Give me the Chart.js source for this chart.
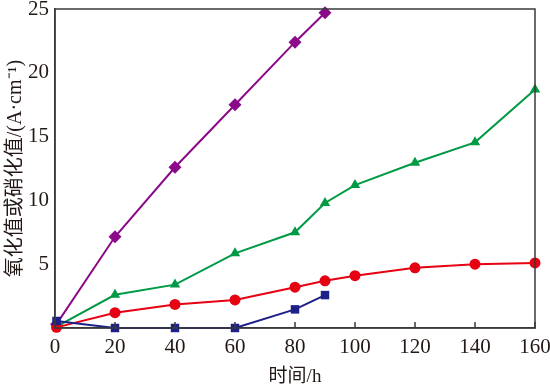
<!DOCTYPE html>
<html>
<head>
<meta charset="utf-8">
<script src="https://cdn.jsdelivr.net/npm/chart.js@4"></script>
<style>
  html, body { margin: 0; padding: 0; background: #fff; }
  #wrap { width: 550px; height: 384px; }
</style>
</head>
<body>
<div id="wrap"><canvas id="chart"></canvas></div>
<script>
// time points (h) for each curve
const timesLong = [0.5, 20, 40, 60, 80, 90, 100, 120, 140, 160];
const timesShort = [0.5, 20, 40, 60, 80, 90];

// series values (A·cm^-1)
const purpleVals = [0.3, 7.15, 12.6, 17.5, 22.4, 24.7];
const greenVals = [0.1, 2.6, 3.4, 5.85, 7.5, 9.8, 11.2, 12.95, 14.55, 18.7];
const redVals = [0.05, 1.2, 1.85, 2.2, 3.2, 3.7, 4.1, 4.72, 5.0, 5.1];
const blueVals = [0.55, 0.0, 0.0, 0.0, 1.46, 2.58];

// tick labels
const xTicks = [0, 20, 40, 60, 80, 100, 120, 140, 160];
const yTicks = [5, 10, 15, 20, 25];

const serif = "'Liberation Serif', 'Noto Sans CJK SC', serif";
const axisColor = "#3a3a3a";

function pts(xs, ys) {
  return ys.map((y, i) => ({ x: xs[i], y: y }));
}

//frame around the plot and inward ticks on the bottom axis
const framePlugin = {
  id: "frame",
  afterDraw(chart) {
    const ctx = chart.ctx;
    const a = chart.chartArea;
    const xs = chart.scales.x;
    ctx.save();
    ctx.strokeStyle = axisColor;
    ctx.lineWidth = 1.5;
    ctx.strokeRect(a.left, a.top, a.right - a.left, a.bottom - a.top);
    ctx.beginPath();
    xTicks.forEach((t) => {
      const px = xs.getPixelForValue(t);
      ctx.moveTo(px, a.bottom);
      ctx.lineTo(px, a.bottom - 6);
    });
    ctx.stroke();
    ctx.restore();
  },
};

function line(data, color, style, radius) {
  return {
    data: data,
    borderColor: color,
    backgroundColor: color,
    borderWidth: 2,
    pointStyle: style,
    pointRadius: radius,
    pointBorderWidth: 0,
    clip: false,
    tension: 0,
  };
}

new Chart(document.getElementById("chart"), {
  type: "line",
  plugins: [framePlugin],
  data: {
    datasets: [
      line(pts(timesShort, blueVals), "#1d2088", "rect", 6),
      line(pts(timesLong, redVals), "#e60012", "circle", 5.5),
      line(pts(timesLong, greenVals), "#009944", "triangle", 6),
      line(pts(timesShort, purpleVals), "#8a0a8a", "rectRot", 6.5),
    ],
  },
  options: {
    responsive: true,
    maintainAspectRatio: false,
    animation: false,
    layout: { padding: { top: 9, right: 15, left: 0, bottom: 0 } },
    plugins: {
      legend: { display: false },
      tooltip: { enabled: false },
    },
    scales: {
      x: {
        type: "linear",
        min: 0,
        max: 160,
        afterBuildTicks: (s) => { s.ticks = xTicks.map((v) => ({ value: v })); },
        afterFit: (s) => { s.height = 56; s.paddingLeft = 0; s.paddingRight = 0; },
        grid: { display: false, drawTicks: false },
        border: { color: axisColor, width: 1.5 },
        ticks: { color: "#231815", font: { family: serif, size: 21 }, padding: 7, maxRotation: 0 },
        title: {
          display: true,
          text: "时间/h",
          color: "#231815",
          font: { family: serif, size: 19, lineHeight: 1 },
          padding: { top: 2, bottom: -3 },
        },
      },
      y: {
        min: 0,
        max: 25,
        afterBuildTicks: (s) => { s.ticks = yTicks.map((v) => ({ value: v })); },
        afterFit: (s) => { s.width = 55; s.paddingTop = 0; s.paddingBottom = 0; },
        grid: { display: false, drawTicks: false },
        border: { color: axisColor, width: 1.5 },
        ticks: { color: "#231815", font: { family: serif, size: 21 }, padding: 6 },
        title: {
          display: true,
          text: "氧化值或硝化值/(A·cm⁻¹)",
          color: "#231815",
          font: { family: serif, size: 20 },
          padding: { bottom: 0 },
        },
      },
    },
  },
});
</script>
</body>
</html>
